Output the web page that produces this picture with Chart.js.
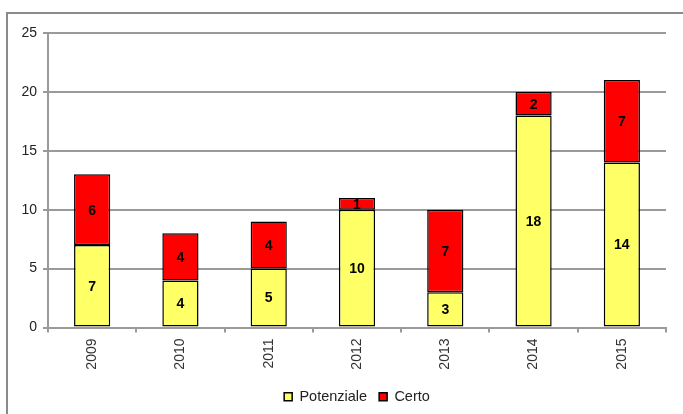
<!DOCTYPE html>
<html>
<head>
<meta charset="utf-8">
<script src="https://cdn.jsdelivr.net/npm/chart.js@4"></script>
<style>
  body { margin: 0; background: #fff; overflow: hidden; }
  .frame {
    position: absolute; left: 6px; top: 12px;
    width: 720px; height: 440px;
    border: 2px solid #8a8a8a;
  }
  .wrap { position: absolute; left: 0; top: 0; width: 683px; height: 414px; }
</style>
</head>
<body>
<div class="frame"></div>
<div class="wrap"><canvas id="myChart"></canvas></div>
<script>
/******************************************* data **/
const years = ["2009", "2010", "2011", "2012", "2013", "2014", "2015"];
const potenziale = [7, 4, 5, 10, 3, 18, 14];
const certo = [6, 4, 4, 1, 7, 2, 7];
const yTicks = [0, 5, 10, 15, 20, 25];

const gridColor = "#9a9a9a";
const font = "'Liberation Sans', Arial, sans-serif";

// write each value in the middle of its bar segment
const valueLabels = {
  id: "valueLabels",
  afterDatasetsDraw(chart) {
    const ctx = chart.ctx;
    ctx.save();
    ctx.font = "bold 14px " + font;
    ctx.fillStyle = "#000";
    ctx.textAlign = "center";
    ctx.textBaseline = "middle";
    chart.data.datasets.forEach((ds, i) => {
      chart.getDatasetMeta(i).data.forEach((bar, j) => {
        const p = bar.getCenterPoint();
        ctx.fillText(String(ds.data[j]), p.x, p.y + 1);
      });
    });
    ctx.restore();
  },
};

const ctx = document.getElementById("myChart");

new Chart(ctx, {
  type: "bar",
  data: {
    labels: years,
    datasets: [
      {
        label: "Potenziale",
        data: potenziale,
        backgroundColor: "#ffff66",
        borderColor: "#000",
        borderWidth: 1.5,
        borderSkipped: false,
        barPercentage: 0.82,
        categoryPercentage: 0.5,
      },
      {
        label: "Certo",
        data: certo,
        backgroundColor: "#ff0000",
        borderColor: "#000",
        borderWidth: 1.5,
        borderSkipped: false,
        barPercentage: 0.82,
        categoryPercentage: 0.5,
      },
    ],
  },
  options: {
    responsive: true,
    maintainAspectRatio: false,
    animation: false,
    layout: { padding: { left: 0, top: 33, right: 17, bottom: 0 } },
    plugins: {
      tooltip: { enabled: false },
      legend: {
        position: "bottom",
        fullSize: false,
        labels: {
          boxWidth: 8,
          boxHeight: 8,
          padding: 12,
          color: "#222",
          font: { family: font, size: 14.5 },
        },
      },
    },
    scales: {
      x: {
        stacked: true,
        grid: {
          drawOnChartArea: false,
          drawTicks: true,
          tickLength: 5,
          color: gridColor,
          lineWidth: 2,
        },
        border: { color: gridColor, width: 2 },
        ticks: {
          minRotation: 90,
          maxRotation: 90,
          padding: 6,
          color: "#333",
          font: { family: font, size: 14 },
        },
        afterFit: (scale) => { scale.height = 50; },
      },
      y: {
        stacked: true,
        min: 0,
        max: 25,
        afterBuildTicks: (scale) => {
          scale.ticks = yTicks.map((v) => ({ value: v }));
        },
        grid: {
          color: gridColor,
          lineWidth: 2,
          tickLength: 5,
        },
        border: { color: gridColor, width: 2 },
        ticks: {
          padding: 6,
          color: "#222",
          font: { family: font, size: 14 },
        },
        afterFit: (scale) => { scale.width = 48; },
      },
    },
  },
  plugins: [valueLabels],
});
</script>
</body>
</html>
